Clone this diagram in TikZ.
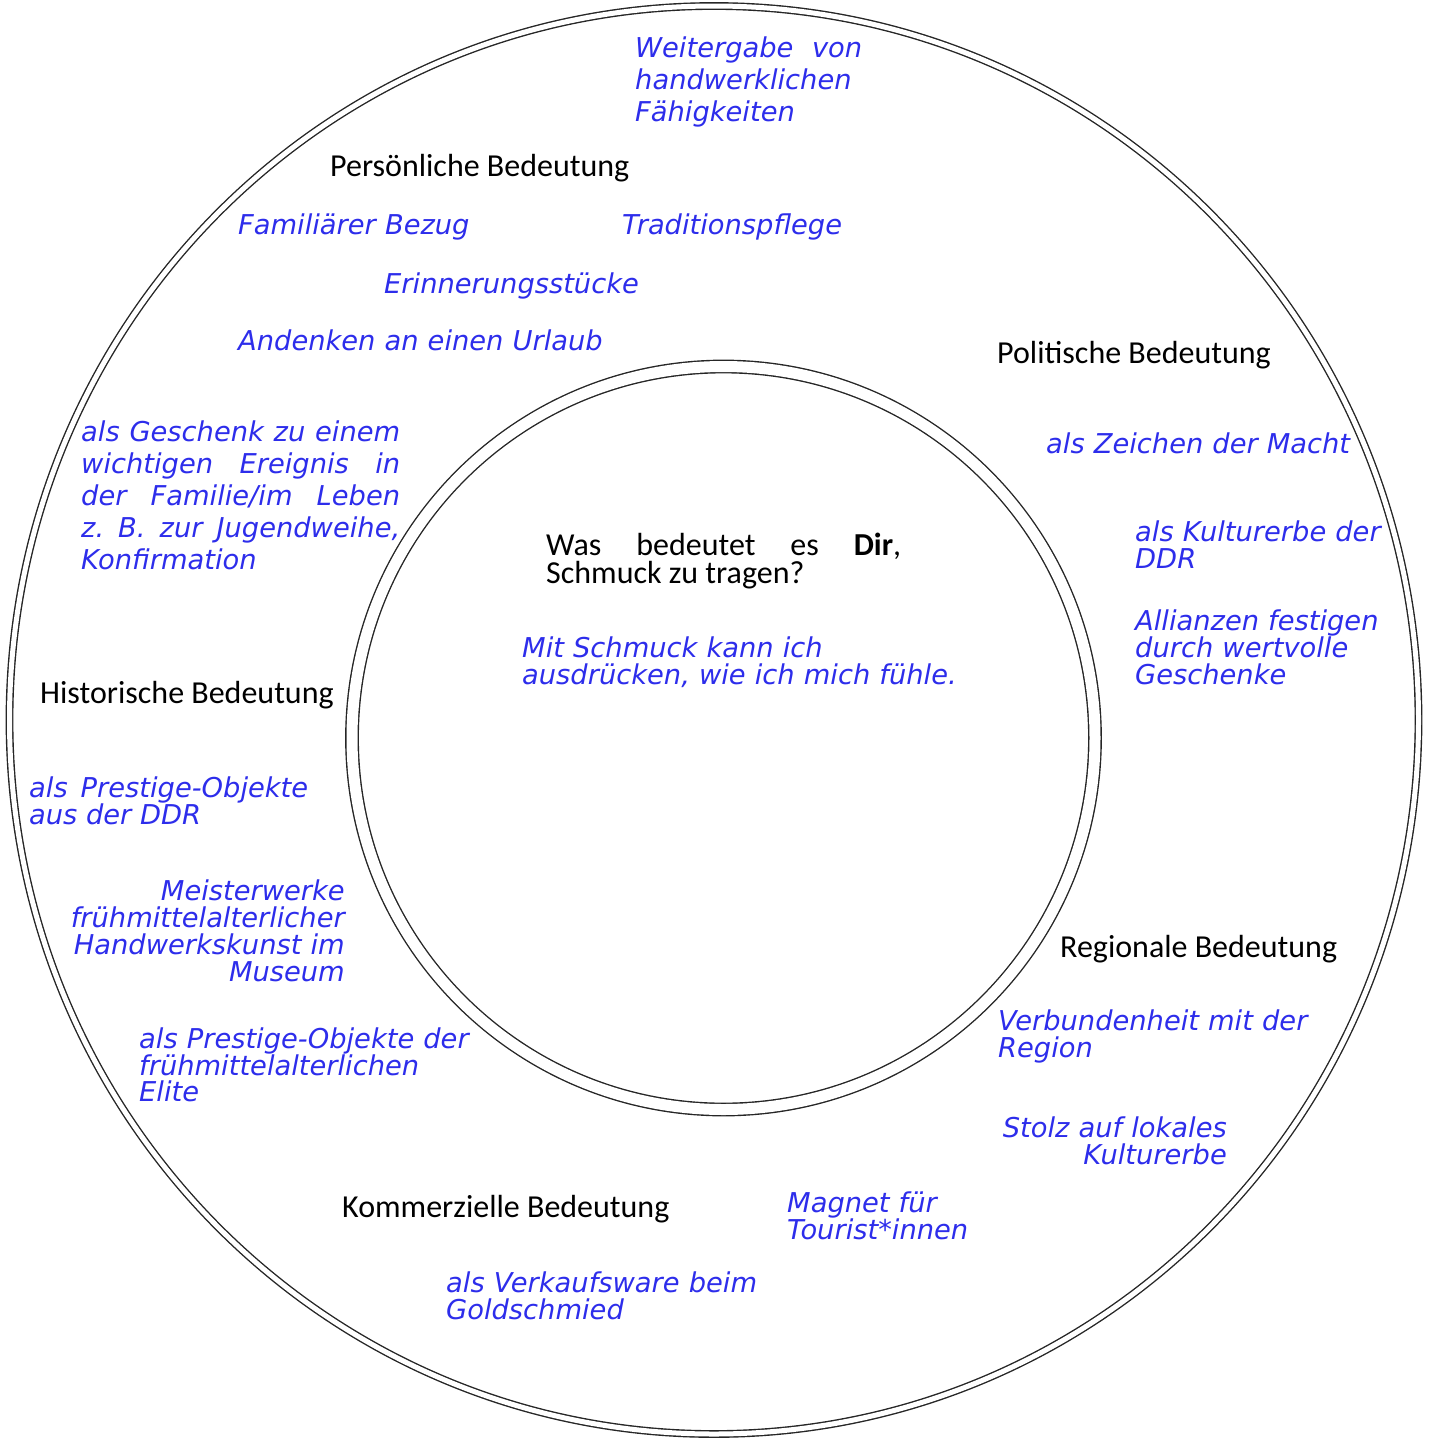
\documentclass[tikz,border=0pt]{standalone}
\usepackage{fontspec}
\setmainfont{Carlito}
\newfontfamily\handfamily{DejaVu Sans}
\newcommand{\headfont}{\fontsize{32}{28}\selectfont}
\newcommand{\handfont}{\handfamily\itshape\fontsize{27.3}{27}\selectfont}
\definecolor{handblue}{RGB}{45,45,235}

\tikzset{
  ring/.style={draw=black!85, line width=1.4pt, double=white},
  head/.style={font=\headfont, inner sep=0pt, anchor=base west},
  note/.style={font=\handfont, text=handblue, inner sep=0pt, anchor=base west,
    text width=#1, align=left},
  note/.default=480pt,
  jnote/.style={note=#1, align=justify},
  rnote/.style={note=#1, align=right, anchor=base east}
}

\begin{document}
\begin{tikzpicture}[x=1pt,y=-1pt]
\useasboundingbox (0,0) rectangle (1431,1438);
% rings
\draw[ring, double distance=5pt] (714,720) ellipse [x radius=704.5, y radius=714];
\draw[ring, double distance=11pt] (723.5,738) circle [radius=371.5];

% centre
\node[head, text width=355pt, align=justify] (frage) at (546,555)
  {Was bedeutet es \textbf{Dir},\linebreak Schmuck zu tragen?};
\node[note] (ausdruck) at (522,657) {Mit Schmuck kann ich\\ausdrücken, wie ich mich fühle.};

% persoenlich
\node[head] (persoenlich) at (330,176) {Persönliche Bedeutung};
\node[jnote=227pt, font=\handfamily\itshape\fontsize{27.3}{32}\selectfont] (weitergabe) at (635,57)
  {Weitergabe von\linebreak handwerklichen\linebreak Fähigkeiten};
\node[note] (familie) at (238,234) {Familiärer Bezug};
\node[note] (tradition) at (622,234) {Traditionspflege};
\node[note] (erinnerung) at (384,293) {Erinnerungsstücke};
\node[note] (andenken) at (238,350) {Andenken an einen Urlaub};
\node[jnote=319pt, font=\handfamily\itshape\fontsize{27.3}{32}\selectfont] (geschenk) at (81,441)
  {als Geschenk zu einem\linebreak wichtigen Ereignis in\linebreak der Familie/im Leben\linebreak z.~B. zur Jugendweihe,\linebreak Konfirmation};

% politisch
\node[head] (politisch) at (997,363) {Politische Bedeutung};
\node[note] (macht) at (1046,453) {als Zeichen der Macht};
\node[note=260pt] (kulturerbe) at (1135,541) {als Kulturerbe der\\DDR};
\node[note=260pt] (allianzen) at (1135,630) {Allianzen festigen\\durch wertvolle\\Geschenke};

% historisch
\node[head] (historisch) at (40,703) {Historische Bedeutung};
\node[jnote=279pt, font=\handfamily\itshape\fontsize{27.3}{26}\selectfont] (prestigeddr) at (29,797)
  {als\hfill\mbox{Prestige-Objekte}\linebreak aus der DDR};
\node[rnote=300pt] (museum) at (345,900)
  {Meisterwerke\\frühmittelalterlicher\\Handwerkskunst im\\Museum};
\node[note, font=\handfamily\itshape\fontsize{27.3}{26}\selectfont] (elite) at (139,1048)
  {als Prestige-Objekte der\\frühmittelalterlichen\\Elite};

% regional
\node[head] (regional) at (1060,957) {Regionale Bedeutung};
\node[note=320pt] (region) at (998,1030) {Verbundenheit mit der\\Region};
\node[rnote=240pt] (stolz) at (1227,1137) {Stolz auf lokales\\Kulturerbe};

% kommerziell
\node[head] (kommerziell) at (342,1217) {Kommerzielle Bedeutung};
\node[note=240pt] (magnet) at (787,1212) {Magnet für\\Tourist*innen};
\node[note=340pt] (verkauf) at (446,1292) {als Verkaufsware beim\\Goldschmied};
\end{tikzpicture}
\end{document}
